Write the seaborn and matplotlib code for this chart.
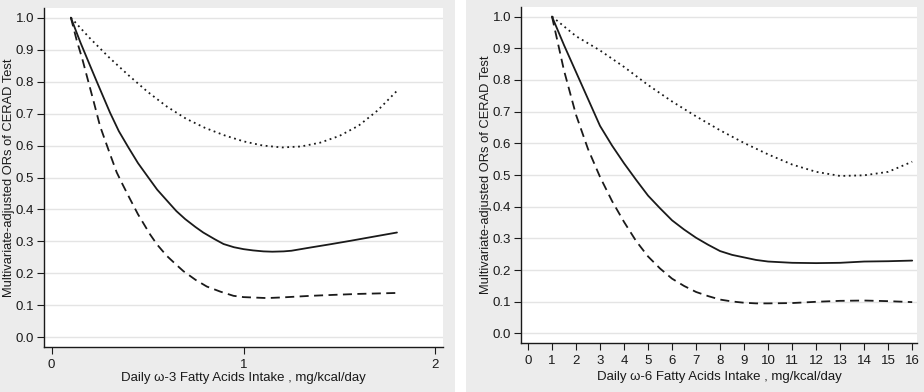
import numpy as np
import pandas as pd
import matplotlib
matplotlib.use("Agg")
import matplotlib.pyplot as plt
from matplotlib.patches import Rectangle
import seaborn as sns

# ── data ────────────────────────────────────────────────────
w3_x     = [0.10, 0.15, 0.20, 0.235, 0.304, 0.35, 0.40, 0.45, 0.504, 0.55, 0.617, 0.65, 0.696, 0.75,
            0.79, 0.85, 0.896, 0.95, 1.0, 1.05, 1.104, 1.15, 1.209, 1.25, 1.348, 1.45, 1.557, 1.65, 1.80]
w3_or    = [1.00, 0.922, 0.850, 0.800, 0.703, 0.645, 0.594, 0.545, 0.500, 0.462, 0.417, 0.395, 0.370, 0.345,
            0.328, 0.307, 0.292, 0.282, 0.276, 0.272, 0.269, 0.268, 0.269, 0.271, 0.281, 0.291, 0.302, 0.312, 0.328]
w3_lo_x  = [0.10, 0.13, 0.16, 0.183, 0.22, 0.252, 0.30, 0.339, 0.37, 0.409, 0.45, 0.513, 0.55, 0.60,
            0.65, 0.687, 0.75, 0.809, 0.88, 0.948, 1.0, 1.122, 1.20, 1.26, 1.35, 1.47, 1.60, 1.80]
w3_lo    = [1.00, 0.93, 0.87, 0.818, 0.735, 0.661, 0.580, 0.516, 0.478, 0.432, 0.385, 0.322, 0.290, 0.255,
            0.227, 0.207, 0.180, 0.159, 0.143, 0.130, 0.126, 0.123, 0.125, 0.127, 0.130, 0.133, 0.136, 0.139]
w3_hi_x  = [0.10, 0.20, 0.30, 0.40, 0.50, 0.60, 0.70, 0.80, 0.90, 1.0, 1.10, 1.20, 1.30, 1.40, 1.50,
            1.60, 1.70, 1.80]
w3_hi    = [1.00, 0.935, 0.875, 0.820, 0.768, 0.722, 0.684, 0.655, 0.632, 0.613, 0.600, 0.594, 0.597,
            0.609, 0.630, 0.662, 0.710, 0.771]

w6_x     = [1, 1.5, 2, 2.5, 3, 3.5, 4, 4.5, 5, 5.5, 6, 6.5, 7, 7.5, 8, 8.5, 9, 9.5, 10, 11, 12, 13, 14, 15, 16]
w6_or    = [1.00, 0.91, 0.825, 0.740, 0.655, 0.593, 0.537, 0.485, 0.435, 0.395, 0.357, 0.328, 0.302, 0.280,
            0.260, 0.248, 0.240, 0.232, 0.227, 0.223, 0.222, 0.223, 0.227, 0.228, 0.230]
w6_lo    = [1.00, 0.83, 0.690, 0.582, 0.494, 0.418, 0.352, 0.292, 0.243, 0.205, 0.173, 0.150, 0.131, 0.118,
            0.107, 0.101, 0.097, 0.095, 0.095, 0.096, 0.100, 0.103, 0.104, 0.102, 0.099]
w6_hi_x  = [1, 2, 3, 4, 5, 6, 7, 8, 9, 10, 11, 12, 13, 14, 15, 16]
w6_hi    = [1.00, 0.938, 0.893, 0.841, 0.784, 0.732, 0.685, 0.641, 0.601, 0.565, 0.533, 0.510, 0.497, 0.499,
            0.510, 0.542]

y_ticks = [0.0, 0.1, 0.2, 0.3, 0.4, 0.5, 0.6, 0.7, 0.8, 0.9, 1.0]
ylab = "Multivariate-adjusted ORs of CERAD Test"

sns.set_style("white")
plt.rcParams['font.family'] = ['Liberation Sans', 'DejaVu Sans']

fig = plt.figure(figsize=(9.24, 3.92), dpi=100)
fig.patch.set_facecolor("white")
bg = "#ececec"
fig.patches.append(Rectangle((0, 0), 455 / 924, 1, transform=fig.transFigure,
                             facecolor=bg, edgecolor="none", zorder=-10))
fig.patches.append(Rectangle((466 / 924, 0), 1 - 466 / 924, 1, transform=fig.transFigure,
                             facecolor=bg, edgecolor="none", zorder=-10))

ax1 = fig.add_axes([44 / 924, 45 / 392, 399 / 924, 339 / 392])
ax2 = fig.add_axes([521 / 924, 49 / 392, 396 / 924, 336 / 392])

ink = "#1a1a1a"


def draw_panel(ax, series, xlim, xticks, xlabel, xlab_y):
    for xs, ys, ls in series:
        sns.lineplot(x=xs, y=ys, ax=ax, color=ink, linewidth=1.3, linestyle=ls)
    ax.set_facecolor("white")
    ax.set_xlim(*xlim)
    ax.set_ylim(-0.03, 1.03)
    ax.set_yticks(y_ticks)
    ax.set_yticklabels([f"{v:.1f}" for v in y_ticks])
    ax.set_xticks(xticks)
    ax.yaxis.grid(True, color="#e4e4e4", linewidth=1.0)
    ax.xaxis.grid(False)
    ax.set_axisbelow(True)
    for s in ["top", "right"]:
        ax.spines[s].set_visible(False)
    for s in ["left", "bottom"]:
        ax.spines[s].set_color(ink)
        ax.spines[s].set_linewidth(1.0)
    ax.tick_params(axis="both", direction="out", length=5, width=0.8,
                   color=ink, labelcolor=ink, labelsize=9.5,
                   left=True, bottom=True)
    ax.tick_params(axis="y", pad=2)
    ax.tick_params(axis="x", pad=4)
    ax.set_ylabel(ylab, fontsize=9.3, color=ink)
    ax.set_xlabel(xlabel, fontsize=9.5, color=ink)
    ax.yaxis.set_label_coords(-0.073, 0.5)
    ax.xaxis.set_label_coords(0.5, xlab_y)


draw_panel(ax1,
           [(w3_x, w3_or, "-"), (w3_lo_x, w3_lo, (0, (5, 3))), (w3_hi_x, w3_hi, (0, (1, 2)))],
           (-0.04, 2.04), [0, 1, 2],
           "Daily \u03c9-3 Fatty Acids Intake , mg/kcal/day", -0.074)
draw_panel(ax2,
           [(w6_x, w6_or, "-"), (w6_x, w6_lo, (0, (5, 3))), (w6_hi_x, w6_hi, (0, (1, 2)))],
           (-0.29, 16.2), list(range(0, 17)),
           "Daily \u03c9-6 Fatty Acids Intake , mg/kcal/day", -0.083)

fig.savefig("out.png", dpi=100)
